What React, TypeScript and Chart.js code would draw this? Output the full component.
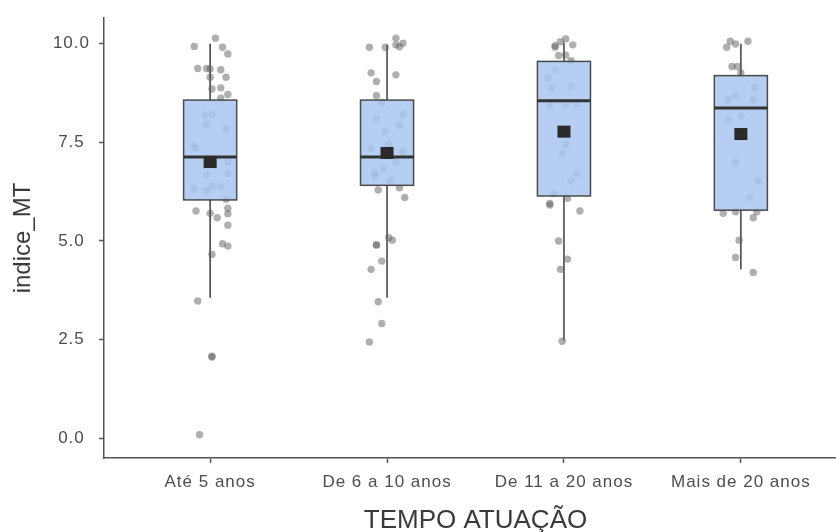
import React, { useEffect, useRef } from "react";
import { Chart, registerables } from "chart.js";

Chart.register(...registerables);

const categories = ["Até 5 anos", "De 6 a 10 anos", "De 11 a 20 anos", "Mais de 20 anos"];
const yTickValues = [0, 2.5, 5, 7.5, 10];

// box statistics per category
const whiskerLow = [3.56, 3.56, 2.48, 4.28];
const q1 = [6.04, 6.41, 6.14, 5.78];
const medians = [7.13, 7.13, 8.55, 8.37];
const q3 = [8.57, 8.57, 9.55, 9.19];
const whiskerHigh = [10.0, 9.97, 10.03, 10.0];
const means = [7.0, 7.23, 7.77, 7.71];

// jittered observations (value, horizontal jitter in category units)
const g1Values = [10.14, 9.93, 9.91, 9.74, 9.37, 9.37, 9.36, 9.34, 9.15, 9.15, 8.85, 8.88, 8.71, 8.62, 8.19, 8.21, 7.94, 7.85, 7.41, 7.35, 7.0, 6.67, 6.72, 6.31, 6.38, 6.38, 6.27, 6.06, 5.76, 5.7, 5.59, 5.83, 5.69, 5.4, 4.93, 4.87, 4.66, 3.48, 2.08, 2.06, 0.09];
const g1Jitter = [0.03, -0.09, 0.07, 0.1, -0.07, -0.02, 0.0, 0.06, 0.0, 0.09, 0.01, 0.06, 0.1, 0.06, -0.03, 0.01, -0.02, 0.09, -0.09, -0.08, 0.1, -0.02, 0.1, -0.09, 0.01, 0.06, -0.02, 0.09, -0.08, 0.0, 0.04, 0.1, 0.1, 0.1, 0.07, 0.1, 0.01, -0.07, 0.01, 0.01, -0.06];
const g2Values = [10.14, 10.01, 9.92, 9.97, 9.91, 9.91, 9.26, 9.21, 9.04, 8.68, 8.51, 8.21, 8.1, 7.94, 7.77, 7.34, 7.45, 7.26, 7.0, 6.84, 6.73, 6.65, 6.52, 6.29, 6.35, 6.1, 5.08, 5.02, 4.9, 4.9, 4.49, 4.28, 3.46, 2.91, 2.44];
const g2Jitter = [0.05, 0.09, 0.07, 0.05, -0.01, -0.1, -0.09, 0.05, -0.06, -0.06, -0.03, 0.09, -0.06, 0.07, -0.01, -0.09, 0.01, 0.09, 0.05, -0.02, -0.07, -0.07, 0.02, -0.05, 0.07, 0.1, 0.01, 0.03, -0.06, -0.06, -0.03, -0.09, -0.05, -0.03, -0.1];
const g3Values = [10.12, 10.05, 9.97, 9.91, 9.95, 9.7, 9.71, 9.57, 9.33, 9.13, 8.87, 8.92, 8.44, 8.47, 8.48, 7.45, 7.22, 6.71, 6.52, 6.2, 6.08, 5.95, 5.91, 5.76, 5.0, 4.54, 4.28, 2.46];
const g3Jitter = [0.01, -0.02, 0.05, -0.05, -0.05, -0.03, 0.01, 0.04, -0.05, -0.09, -0.07, 0.04, -0.08, 0.01, 0.07, 0.01, -0.01, 0.07, 0.04, -0.06, 0.02, -0.08, -0.08, 0.09, -0.03, 0.02, -0.02, -0.01];
const g4Values = [10.06, 9.99, 9.91, 10.06, 9.42, 9.42, 9.26, 8.88, 8.68, 8.58, 8.58, 8.16, 8.07, 7.0, 6.51, 6.1, 5.7, 5.74, 5.74, 5.59, 5.02, 4.58, 4.2];
const g4Jitter = [-0.06, -0.03, -0.08, 0.04, -0.05, -0.02, 0.0, 0.08, -0.03, -0.07, 0.07, 0.0, -0.07, -0.03, 0.1, 0.05, -0.1, -0.03, 0.09, 0.07, -0.01, -0.03, 0.07];

const groupValues = [g1Values, g2Values, g3Values, g4Values];
const groupJitter = [g1Jitter, g2Jitter, g3Jitter, g4Jitter];

const FONT = "'Liberation Sans', Arial, sans-serif";

function patchTitle(s: any) {
  if (s.__patched) return;
  const orig = s.drawTitle;
  s.drawTitle = function (...args: any[]) {
    const c = this.ctx;
    const prev = c.letterSpacing;
    c.letterSpacing = "0px";
    orig.apply(this, args);
    c.letterSpacing = prev;
  };
  s.__patched = true;
}

const boxPlugin = {
  id: "boxes",
  beforeDraw(chart: any) {
    chart.ctx.letterSpacing = "1px";
  },
  beforeDatasetsDraw(chart: any) {
    const { ctx, scales } = chart;
    const xs = scales.x, ys = scales.y;
    ctx.save();
    ctx.strokeStyle = "#555555";
    ctx.lineWidth = 1.7;
    categories.forEach((_, i) => {
      const cx = xs.getPixelForValue(i + 1);
      ctx.beginPath();
      ctx.moveTo(cx, ys.getPixelForValue(whiskerHigh[i]));
      ctx.lineTo(cx, ys.getPixelForValue(q3[i]));
      ctx.moveTo(cx, ys.getPixelForValue(q1[i]));
      ctx.lineTo(cx, ys.getPixelForValue(whiskerLow[i]));
      ctx.stroke();
    });
    ctx.restore();
  },
  afterDatasetsDraw(chart: any) {
    const { ctx, scales } = chart;
    const xs = scales.x, ys = scales.y;
    ctx.save();
    categories.forEach((_, i) => {
      const l = xs.getPixelForValue(i + 1 - 0.15);
      const r = xs.getPixelForValue(i + 1 + 0.15);
      const t = ys.getPixelForValue(q3[i]);
      const b = ys.getPixelForValue(q1[i]);
      ctx.fillStyle = "rgba(168,198,240,0.85)";
      ctx.fillRect(l, t, r - l, b - t);
      ctx.strokeStyle = "#4a4a4a";
      ctx.lineWidth = 1.5;
      ctx.strokeRect(l, t, r - l, b - t);
      const m = ys.getPixelForValue(medians[i]);
      ctx.strokeStyle = "#333333";
      ctx.lineWidth = 3;
      ctx.beginPath();
      ctx.moveTo(l, m);
      ctx.lineTo(r, m);
      ctx.stroke();
      const cx = xs.getPixelForValue(i + 1);
      const my = ys.getPixelForValue(means[i]);
      ctx.fillStyle = "#2b2b2b";
      ctx.fillRect(cx - 6.5, my - 6, 13, 12);
    });
    ctx.restore();
  },
};

export default function App() {
  const ref = useRef<HTMLCanvasElement>(null);
  useEffect(() => {
    document.body.style.margin = "0";
    const points: { x: number; y: number }[] = [];
    groupValues.forEach((vals, i) => {
      vals.forEach((v, j) => points.push({ x: i + 1 + groupJitter[i][j], y: v }));
    });
    const chart = new Chart(ref.current!, {
      type: "scatter",
      data: {
        datasets: [
          {
            data: points,
            backgroundColor: "rgba(95,95,95,0.5)",
            borderWidth: 0,
            pointRadius: 3.7,
          },
        ],
      },
      options: {
        animation: false,
        responsive: false,
        events: [],
        layout: { padding: { top: 18, right: 0, left: 0, bottom: 0 } },
        plugins: { legend: { display: false }, tooltip: { enabled: false } },
        scales: {
          x: {
            type: "linear",
            min: 0.4,
            max: 4.6,
            afterBuildTicks: (s: any) => {
              s.ticks = categories.map((_, i) => ({ value: i + 1 }));
            },
            afterFit: (s: any) => {
              s.height = 74;
              s.paddingLeft = 0;
              s.paddingRight = 0;
            },
            afterUpdate: patchTitle,
            grid: { drawOnChartArea: false, drawTicks: true, tickLength: 5, color: "#555555", tickWidth: 1.5 },
            border: { color: "#555555", width: 1.5 },
            ticks: {
              padding: 9,
              color: "#4d4d4d",
              font: { family: FONT, size: 17 },
              maxRotation: 0,
              autoSkip: false,
              callback: (v: any) => categories[Math.round(v) - 1],
            },
            title: {
              display: true,
              text: "TEMPO ATUAÇÃO",
              color: "#3a3a3a",
              font: { family: FONT, size: 26, lineHeight: 1 },
              padding: { top: 0, bottom: -2 },
            },
          },
          y: {
            min: -0.5,
            max: 10.65,
            afterBuildTicks: (s: any) => {
              s.ticks = yTickValues.map((v) => ({ value: v }));
            },
            afterFit: (s: any) => {
              s.width = 104;
              s.paddingTop = 0;
              s.paddingBottom = 0;
            },
            afterUpdate: patchTitle,
            grid: { drawOnChartArea: false, drawTicks: true, tickLength: 5, color: "#555555", tickWidth: 1.5 },
            border: { color: "#555555", width: 1.5 },
            ticks: {
              padding: 11,
              color: "#4d4d4d",
              crossAlign: "center",
              font: { family: FONT, size: 17 },
              callback: (v: any) => Number(v).toFixed(1),
            },
            title: {
              display: true,
              text: "indice_MT",
              color: "#3a3a3a",
              font: { family: FONT, size: 24 },
              padding: { top: 8.5, bottom: 0 },
            },
          },
        },
      },
      plugins: [boxPlugin],
    });
    return () => chart.destroy();
  }, []);
  return (
    <div style={{ position: "absolute", left: 0, top: 0, width: 836, height: 532, overflow: "hidden" }}>
      <canvas ref={ref} width={851} height={532} />
    </div>
  );
}
